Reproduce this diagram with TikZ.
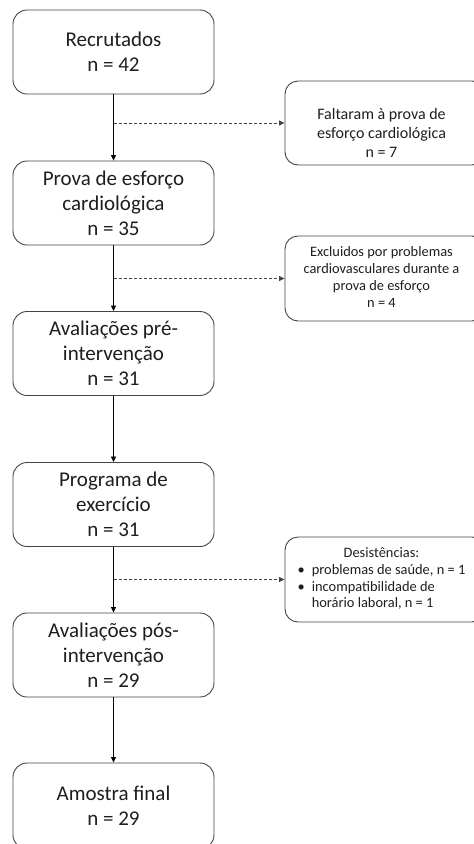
\documentclass[tikz,border=0pt]{standalone}
\usepackage{fontspec}
\setmainfont{Carlito}
\usetikzlibrary{arrows.meta,calc}
\definecolor{boxgray}{HTML}{444444}
\definecolor{txtgray}{HTML}{1E1E1E}
\begin{document}
\begin{tikzpicture}[x=1pt,y=-1pt,
  mainbox/.style={draw=boxgray, line width=0.9pt, rounded corners=14pt,
    minimum width=201pt, minimum height=84pt, align=center, inner sep=0pt,
    text=txtgray, font=\fontsize{21}{25}\selectfont},
  sidebox/.style={draw=boxgray, line width=0.9pt, rounded corners=13pt,
    minimum width=200pt, minimum height=85pt, align=center, inner sep=0pt,
    text=txtgray},
  flowarrow/.style={draw=black, line width=0.8pt, -{Triangle[length=5.5pt,width=5pt]}},
  dasharrow/.style={draw=boxgray, line width=0.8pt, dash pattern=on 3pt off 2pt,
    -{Triangle[length=5.5pt,width=5pt]}}
]
\useasboundingbox (0,0) rectangle (474,844);

\node[mainbox] (b1) at (113.5,52) {Recrutados\\n = 42};
\node[mainbox] (b2) at (113.5,203) {Prova de esforço\\cardiológica\\n = 35};
\node[mainbox] (b3) at (113.5,353.5) {Avaliações pré-\\intervenção\\n = 31};
\node[mainbox] (b4) at (113.5,504.5) {Programa de\\exercício\\n = 31};
\node[mainbox] (b5) at (113.5,655) {Avaliações pós-\\intervenção\\n = 29};
\node[mainbox, minimum height=86pt] (b6) at (113.5,806) {Amostra final\\n = 29};

\node[sidebox, minimum height=84pt, font=\fontsize{16}{19}\selectfont, text depth=0pt] (r1) at (385,123)
  {\hspace*{-7pt}\begin{tabular}{@{}c@{}}Faltaram à prova de\\esforço cardiológica\\n = 7\end{tabular}};
\node[sidebox, font=\fontsize{14.4}{17}\selectfont] (r2) at (385,278.5)
  {\hspace*{-7pt}\begin{tabular}{@{}c@{}}Excluidos por problemas\\cardiovasculares durante a\\prova de esforço\\n = 4\end{tabular}};
\node[sidebox, font=\fontsize{14.4}{16.7}\selectfont] (r3) at (385,579.5)
  {\hspace*{-7pt}\renewcommand{\arraystretch}{1}%
   \begin{tabular}{@{}l@{\hspace{7pt}}l@{}}
   \multicolumn{2}{c}{Desistências:}\\
   •& problemas de saúde, n = 1\\
   •& incompatibilidade de\\
   & horário laboral, n = 1
   \end{tabular}};

\draw[flowarrow] (b1.south) -- (b2.north);
\draw[flowarrow] (b2.south) -- (b3.north);
\draw[flowarrow] (b3.south) -- (b4.north);
\draw[flowarrow] (b4.south) -- (b5.north);
\draw[flowarrow] (b5.south) -- (b6.north);

\coordinate (d1) at (b1.south |- r1.west);
\coordinate (d2) at (b2.south |- r2.west);
\coordinate (d3) at (b4.south |- r3.west);
\draw[dasharrow] (d1) -- (r1.west);
\draw[dasharrow] (d2) -- (r2.west);
\draw[dasharrow] (d3) -- (r3.west);
\end{tikzpicture}
\end{document}
